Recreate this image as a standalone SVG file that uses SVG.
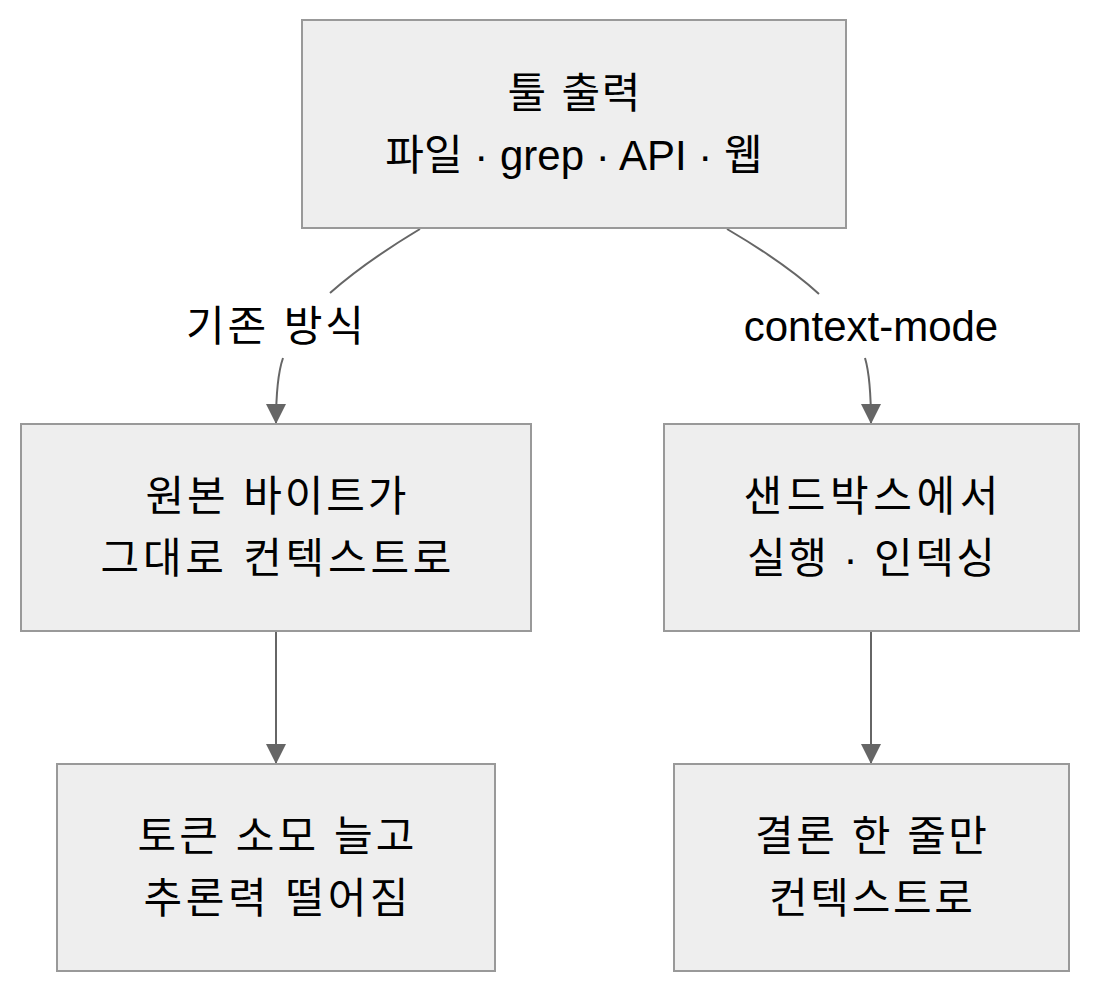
<svg xmlns="http://www.w3.org/2000/svg" width="1100" height="993" viewBox="0 0 1100 993">
<defs>
<style>
.node rect{fill:#eeeeee;stroke:#999999;stroke-width:2}
text{font-family:"Liberation Sans","Noto Sans CJK KR",sans-serif;font-size:42px;fill:#000;text-anchor:middle;dominant-baseline:central}
.edge{fill:none;stroke:#666666;stroke-width:2}
</style>
<marker id="arrow" viewBox="0 0 20 20" refX="20" refY="10" markerWidth="20" markerHeight="21" markerUnits="userSpaceOnUse" orient="auto">
<path d="M0,0 L20,10 L0,20 z" fill="#666666"/>
</marker>
</defs>
<rect width="1100" height="993" fill="#ffffff"/>
<g id="connectors">
<path class="edge" d="M420,229 Q365,262 330,293"/>
<path class="edge" d="M283,358 Q276,378 276,424" marker-end="url(#arrow)"/>
<path class="edge" d="M727,229 Q785,263 819,294"/>
<path class="edge" d="M865,358 Q871,378 871,424" marker-end="url(#arrow)"/>
<path class="edge" d="M276,632 L276,764" marker-end="url(#arrow)"/>
<path class="edge" d="M871,632 L871,764" marker-end="url(#arrow)"/>
<text x="275" y="326" textLength="178" lengthAdjust="spacing">기존 방식</text>
<text x="871" y="326">context-mode</text>
</g>
<g id="node-tool" class="node">
<rect x="302" y="20" width="544" height="208"/>
<text x="574" y="93" textLength="133" lengthAdjust="spacing">툴 출력</text>
<text x="574" y="155">파일 · grep · API · 웹</text>
</g>
<g id="node-raw" class="node">
<rect x="21" y="424" width="510" height="207"/>
<text x="276" y="496" textLength="261" lengthAdjust="spacing">원본 바이트가</text>
<text x="276" y="558" textLength="351" lengthAdjust="spacing">그대로 컨텍스트로</text>
</g>
<g id="node-sandbox" class="node">
<rect x="664" y="424" width="415" height="207"/>
<text x="871" y="496" textLength="255" lengthAdjust="spacing">샌드박스에서</text>
<text x="871" y="558" textLength="248" lengthAdjust="spacing">실행 · 인덱싱</text>
</g>
<g id="node-tokens" class="node">
<rect x="57" y="764" width="438" height="207"/>
<text x="276" y="836" textLength="277" lengthAdjust="spacing">토큰 소모 늘고</text>
<text x="276" y="898" textLength="265" lengthAdjust="spacing">추론력 떨어짐</text>
</g>
<g id="node-summary" class="node">
<rect x="674" y="764" width="395" height="207"/>
<text x="871" y="836" textLength="232" lengthAdjust="spacing">결론 한 줄만</text>
<text x="871" y="898" textLength="204" lengthAdjust="spacing">컨텍스트로</text>
</g>
</svg>
